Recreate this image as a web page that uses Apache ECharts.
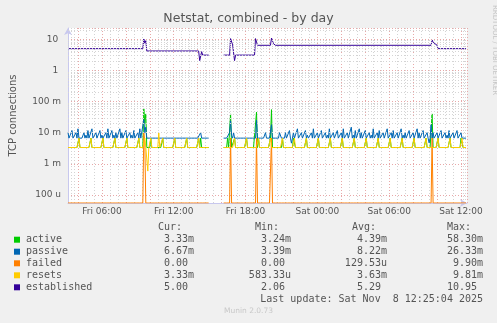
<!DOCTYPE html>
<html><head><meta charset="utf-8">
<script src="https://cdn.jsdelivr.net/npm/echarts@6/dist/echarts.min.js"></script>
<style>html,body{margin:0;padding:0;background:#f0f0f0}#c{width:497px;height:323px}</style>
</head><body><div id="c"></div>
<script>
// ---------------- data (hours since Fri 00:00, values in "m" = 1/1000 unless noted) ----------------
const seriesNames  = ['active', 'passive', 'failed', 'resets', 'established'];
const seriesColors = ['#00cc00', '#0066b3', '#ff8000', '#ffcc00', '#330099'];
const dayNames = ['Sun', 'Mon', 'Tue', 'Wed', 'Thu', 'Fri', 'Sat'];
const yTickLabels = { '-4': '100 u', '-3': '1 m', '-2': '10 m', '-1': '100 m', '0': '1 ', '1': '10 ' };

const firstSampleHour = 3 + 10 / 60;   // Fri 03:10
const lastSampleHour  = 36 + 25 / 60;  // Sat 12:25
const gapHours = [15.0, 16.09];          // no data
const viewHours = [3 + 10 / 60, 36.5];

// active: baseline + spikes [hour, value m]
const activeBase = 3.33;
const activeSpikes = [
  [4.08, 6.67], [5.08, 6.67], [6.08, 6.67], [7.08, 6.67], [8.08, 6.67], [9.08, 6.67],
  [9.5, 58.3], [9.58, 20], [9.67, 40], [10.08, 6.67], [11.08, 6.67], [12.08, 6.67],
  [13.08, 6.67], [14.08, 6.67], [14.25, 6.67], [16.5, 6.67], [16.75, 40], [17.08, 6.67],
  [18.08, 6.67], [18.92, 46], [19.08, 6.67], [20.08, 6.67], [20.17, 55], [21.08, 6.67],
  [22.0, 6.67], [22.08, 6.67], [23.08, 6.67], [24.08, 6.67], [25.08, 6.67], [26.08, 6.67],
  [27.08, 6.67], [28.08, 6.67], [29.08, 6.67], [30.08, 6.67], [31.08, 6.67], [32.08, 6.67],
  [33.08, 6.67], [33.58, 40], [34.08, 6.67], [35.08, 6.67], [36.0, 6.67], [36.08, 6.67]
];

// passive: baseline, noisy stretches sampled every 10 minutes, and single events
const passiveBase = 6.67;
const passiveNoiseAStart = 3 + 10 / 60;
const passiveNoiseA = [
  10, 6.67, 11.7, 6.67, 10, 13.3, 6.67, 6.67, 10, 8.33, 11.7, 6.67, 13.3,
  6.67, 10, 6.67, 11.7, 8.33, 6.67, 10, 13.3, 6.67, 11.7, 8.33, 10, 6.67,
  13.3, 10, 6.67, 11.7, 6.67, 10, 8.33, 11.7, 6.67, 10, 13.3, 6.67
];
const passiveEvents = [
  [9.5, 26.3], [9.58, 10], [9.67, 15], [14.25, 10], [16.67, 10], [16.75, 24], [16.83, 8],
  [17.0, 10], [18.92, 25], [19.67, 10], [20.17, 18], [20.83, 10], [20.92, 10]
];
const passiveNoiseCStart = 21 + 20 / 60;
const passiveNoiseC = [
  10, 6.67, 11.7, 4.6, 10, 6.67,
  13.3, 6.67, 10, 6.67, 11.7, 8.33,
  6.67, 10, 13.3, 6.67, 10, 6.67,
  11.7, 6.67, 10, 8.33, 13.3, 6.67,
  10, 6.67, 11.7, 6.67, 10, 13.3,
  6.67, 10, 6.67, 15, 8.33, 11.7,
  6.67, 13.3, 10, 6.67, 11.7, 6.67,
  10, 8.33, 13.3, 6.67, 10, 11.7,
  6.67, 10, 6.67, 13.3, 6.67, 10,
  11.7, 6.67, 10, 6.67, 13.3, 8.33,
  10, 6.67, 11.7, 6.67, 10, 6.67,
  13.3, 10, 6.67, 11.7, 6.67, 10,
  4.7, 18, 10, 6.67, 10, 6.67,
  11.7, 6.67, 10, 8.33, 11.7, 6.67,
  10, 6.67, 11.7, 6.67, 10, 6.67,
  6.67
];

// failed: zero with spikes
const failedBase = 0;
const failedSpikes = [[9.5, 9.9], [9.58, 5], [16.75, 6.67], [18.92, 6.67], [20.17, 6.67], [33.58, 6.67]];

// resets: baseline + spikes
const resetsBase = 3.33;
const resetsSpikes = [
  [4.08, 6.67], [5.08, 6.67], [6.08, 6.67], [7.08, 6.67], [8.08, 6.67], [9.08, 6.67],
  [9.58, 6.67], [9.83, 0.583], [10.08, 6.67], [10.75, 9.81], [11.08, 6.67], [12.08, 6.67],
  [13.08, 6.67], [14.08, 6.67], [17.08, 6.67], [18.08, 6.67], [19.08, 6.67], [20.08, 6.67],
  [21.08, 6.67], [22.08, 6.67], [23.08, 6.67], [24.08, 6.67], [25.08, 6.67], [26.08, 6.67],
  [27.08, 6.67], [28.08, 6.67], [29.08, 6.67], [30.08, 6.67], [31.08, 6.67], [32.08, 6.67],
  [33.08, 6.67], [34.08, 6.67], [35.08, 6.67], [36.08, 6.67]
];

// established (plain units): breakpoints
const establishedPoints = [
  [3.17, 5.0], [9.42, 5.0], [9.5, 10.2], [9.58, 7.5], [9.67, 9.0], [9.75, 4.2], [14.08, 4.2],
  [14.17, 2.06], [14.33, 4.0], [14.42, 3.1], [14.92, 3.1], [15.5, null], [16.17, 3.1], [16.67, 3.1],
  [16.75, 10.5], [16.92, 6.6], [17.0, 6.6], [17.08, 2.06], [17.17, 3.1], [18.75, 3.1], [18.83, 10.5],
  [19.0, 6.4], [20.08, 6.4], [20.17, 10.95], [20.33, 7.2], [20.5, 6.4], [33.5, 6.4], [33.58, 9.5],
  [33.67, 8.0], [34.0, 6.4], [34.08, 5.0], [36.42, 5.0]
];

// legend table
const legendHeaders = ['Cur:', 'Min:', 'Avg:', 'Max:'];
const legendRows = [
  ['3.33m', '3.24m', '4.39m', '58.30m'],
  ['6.67m', '3.39m', '8.22m', '26.33m'],
  ['0.00 ', '0.00 ', '129.53u', '9.90m'],
  ['3.33m', '583.33u', '3.63m', '9.81m'],
  ['5.00 ', '2.06 ', '5.29 ', '10.95 ']
];
const titleText = 'Netstat, combined - by day';
const yAxisTitle = 'TCP connections';
const lastUpdateText = 'Last update: Sat Nov  8 12:25:04 2025';
const footerText = 'Munin 2.0.73';
const sideText = 'RRDTOOL / TOBI OETIKER';

// ---------------- build ----------------
const YMIN = 5.5e-5, YMAX = 23;
const T0 = new Date(2025, 10, 7, 0, 0, 0).getTime();
const H = 3600 * 1000;
const ts = h => T0 + h * H;
const M = 1e-3;

function gridSeries(base, pointLists) {
  const i0 = Math.round(firstSampleHour * 12), i1 = Math.round(lastSampleHour * 12);
  const g = {};
  for (let i = i0; i <= i1; i++) {
    const h = i / 12;
    g[i] = (h >= gapHours[0] - 1e-6 && h <= gapHours[1]) ? null : base;
  }
  pointLists.forEach(list => list.forEach(([h, v]) => {
    const i = Math.round(h * 12);
    if (g[i] !== null && g[i] !== undefined) g[i] = v;
  }));
  const out = [];
  for (let i = i0; i <= i1; i++) {
    let v = g[i];
    if (v !== null) { v = v * M; if (v < YMIN) v = YMIN; }
    out.push([ts(i / 12), v]);
  }
  return out;
}
function noisePoints(start, arr) { return arr.map((v, k) => [start + k / 6, v]); }

const dataActive = gridSeries(activeBase, [activeSpikes]);
const dataPassive = gridSeries(passiveBase, [noisePoints(passiveNoiseAStart, passiveNoiseA), passiveEvents, noisePoints(passiveNoiseCStart, passiveNoiseC)]);
const dataFailed = gridSeries(failedBase, [failedSpikes]);
const dataResets = gridSeries(resetsBase, [resetsSpikes]);
const dataEstablished = establishedPoints.map(([h, v]) => [ts(h), v]);
const allData = [dataActive, dataPassive, dataFailed, dataResets, dataEstablished];

// minor horizontal grid (2..9 of each decade)
const minorY = [];
for (let e = -5; e <= 1; e++) for (let m = 2; m <= 9; m++) {
  const v = m * Math.pow(10, e);
  if (v > YMIN && v < YMAX) minorY.push({ yAxis: v });
}

const txt = '#555555';
const mono = 'DejaVu Sans Mono';
const sans = 'DejaVu Sans';

const graphic = [
  { type: 'text', left: 'center', top: 12, style: { text: titleText, fill: txt, font: '12.5px ' + sans } },
  { type: 'text', x: 491, y: 5, rotation: -Math.PI / 2, style: { text: sideText, fill: '#c4c4c4', font: '7px ' + sans, textVerticalAlign: 'bottom' } },
  { type: 'text', left: 'center', top: 307, style: { text: footerText, fill: '#c8c8c8', font: '7.5px ' + sans } }
];
const colX = [194, 291, 387, 483];
const headX = [158, 255, 352, 447];
const rowY = [239.7, 251.7, 263.3, 275.3, 287.3];
legendHeaders.forEach((h, k) => graphic.push({ type: 'text', x: headX[k], y: 227.7, style: { text: h, fill: txt, font: '10px ' + mono, textVerticalAlign: 'middle' } }));
seriesNames.forEach((n, r) => {
  graphic.push({ type: 'rect', shape: { x: 14, y: rowY[r] - 3, width: 6, height: 6 }, style: { fill: seriesColors[r] } });
  graphic.push({ type: 'text', x: 26, y: rowY[r], style: { text: n, fill: txt, font: '10px ' + mono, textVerticalAlign: 'middle' } });
  legendRows[r].forEach((v, k) => graphic.push({ type: 'text', x: colX[k], y: rowY[r], style: { text: v, fill: txt, font: '10px ' + mono, textAlign: 'right', textVerticalAlign: 'middle' } }));
});
graphic.push({ type: 'text', x: 483, y: 299.3, style: { text: lastUpdateText, fill: txt, font: '10px ' + mono, textAlign: 'right', textVerticalAlign: 'middle' } });

const majorGrid = { show: true, lineStyle: { color: '#e8a8a8', width: 1, type: [1, 2] } };
const minorGridStyle = { color: '#d4d4d4', width: 1, type: [1, 2] };
const axisLineStyle = { show: true, symbol: ['none', 'arrow'], symbolSize: [6, 7], lineStyle: { color: '#c8c8ee', width: 1 } };

const option = {
  animation: false,
  backgroundColor: '#f0f0f0',
  textStyle: { fontFamily: sans },
  grid: { left: 67, top: 28, width: 400, height: 175, show: true, backgroundColor: '#ffffff', borderWidth: 0 },
  xAxis: {
    type: 'time', min: ts(viewHours[0]), max: ts(viewHours[1]),
    minInterval: 3 * H, maxInterval: 3 * H,
    axisLine: axisLineStyle,
    axisTick: { show: false },
    minorTick: { show: false, splitNumber: 3 },
    splitLine: majorGrid, minorSplitLine: { show: true, lineStyle: minorGridStyle },
    axisLabel: {
      color: txt, fontSize: 9, fontFamily: sans, margin: 4, hideOverlap: false,
      formatter: v => {
        const d = new Date(v), h = d.getHours();
        if (h % 6 !== 0 || d.getMinutes() !== 0) return '';
        return dayNames[d.getDay()] + ' ' + String(h).padStart(2, '0') + ':00';
      }
    }
  },
  yAxis: {
    type: 'log', logBase: 10, min: YMIN, max: YMAX,
    name: yAxisTitle, nameLocation: 'middle', nameGap: 50,
    nameTextStyle: { color: txt, fontSize: 10, fontFamily: sans },
    axisLine: axisLineStyle,
    axisTick: { show: false },
    splitLine: majorGrid, minorSplitLine: { show: false },
    axisLabel: {
      color: txt, fontSize: 9, fontFamily: sans, margin: 7,
      formatter: v => {
        const l = Math.log10(v), e = Math.round(l);
        if (Math.abs(l - e) > 0.01) return '';
        return yTickLabels[String(e)] || '';
      }
    }
  },
  graphic: graphic,
  series: [{
    name: 'grid-minor', type: 'line', data: [], z: 1, silent: true,
    markLine: { silent: true, symbol: 'none', label: { show: false }, lineStyle: minorGridStyle, emphasis: { disabled: true }, data: minorY }
  }].concat(seriesNames.map((n, k) => ({
    name: n, type: 'line', data: allData[k], showSymbol: false, symbol: 'none',
    connectNulls: false, clip: true,
    lineStyle: { color: seriesColors[k], width: 1 }, itemStyle: { color: seriesColors[k] },
    emphasis: { disabled: true }
  })))
};
const chart = echarts.init(document.getElementById('c'), null, { renderer: 'canvas' });
chart.setOption(option);
</script></body></html>
